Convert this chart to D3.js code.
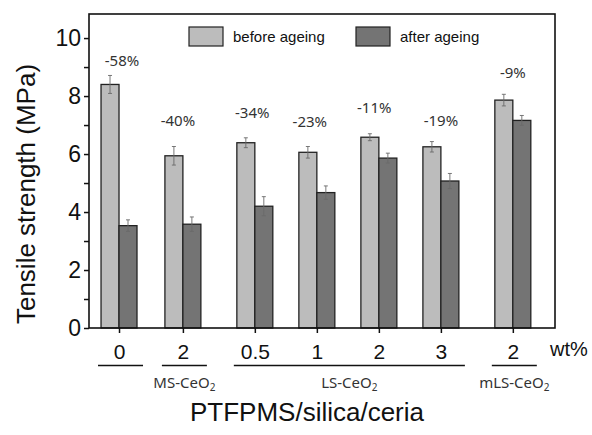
<!DOCTYPE html>
<html>
<head>
<meta charset="utf-8">
<script src="https://cdn.jsdelivr.net/npm/d3@7/dist/d3.min.js"></script>
<style>
  html, body { margin: 0; padding: 0; background: #fff; }
  svg { display: block; }
</style>
</head>
<body>
<svg id="chart" width="592" height="435"></svg>
<script>
// Ceria loading (wt%) of each formulation and the filler family it belongs to
const compositions = ["0", "2", "0.5", "1", "2", "3", "2"];
const fillers = ["", "MS-CeO2", "LS-CeO2", "LS-CeO2", "LS-CeO2", "LS-CeO2", "mLS-CeO2"];

// Tensile strength (MPa) before and after ageing, with standard deviations
const beforeAgeing = [8.40, 5.94, 6.39, 6.06, 6.58, 6.25, 7.86];
const beforeErr    = [0.31, 0.32, 0.17, 0.20, 0.12, 0.18, 0.20];
const afterAgeing  = [3.53, 3.58, 4.20, 4.67, 5.86, 5.07, 7.16];
const afterErr     = [0.20, 0.25, 0.33, 0.23, 0.17, 0.26, 0.17];

const seriesNames = ["before ageing", "after ageing"];
const yMajorTicks = [0, 2, 4, 6, 8, 10];
const yMinorTicks = [1, 3, 5, 7, 9];

const svg = d3.select("#chart");
const plot = { left: 89, right: 555, top: 14, bottom: 328 };
const colors = { before: "#bcbcbc", after: "#747474", edge: "#222", err: "#6a6a6a", note: "#333" };
const sansFont = "'Liberation Sans', Arial, sans-serif";
const noteFont = "'Noto Sans', 'Open Sans', sans-serif";

// Slot position of each formulation: one unit per bar pair, with a little
// extra room whenever the filler family changes.
const slots = [];
fillers.forEach((f, i) => {
  if (i === 0) { slots.push(0); return; }
  const gap = f === fillers[i - 1] ? 0 : (fillers[i - 1] === "" ? 0.03 : 0.16);
  slots.push(slots[i - 1] + 1 + gap);
});

const x = d3.scaleLinear().domain([-0.484, 7.03]).range([plot.left, plot.right]);
const y = d3.scaleLinear().domain([0, 10.83]).range([plot.bottom, plot.top]);
const barW = 0.29; // slot units

// Bars
const bars = svg.append("g");
const series = [
  { vals: beforeAgeing, errs: beforeErr, fill: colors.before, off: -barW },
  { vals: afterAgeing,  errs: afterErr,  fill: colors.after,  off: 0 }
];
series.forEach(s => {
  s.vals.forEach((v, i) => {
    const x0 = x(slots[i] + s.off), x1 = x(slots[i] + s.off + barW);
    bars.append("rect")
      .attr("x", x0).attr("y", y(v))
      .attr("width", x1 - x0).attr("height", y(0) - y(v))
      .attr("fill", s.fill).attr("stroke", colors.edge).attr("stroke-width", 1.3);
  });
});

// Error bars
const errs = svg.append("g").attr("stroke", colors.err).attr("stroke-width", 0.9);
series.forEach(s => {
  s.vals.forEach((v, i) => {
    const cx = (x(slots[i] + s.off) + x(slots[i] + s.off + barW)) / 2;
    const lo = y(v - s.errs[i]), hi = y(v + s.errs[i]);
    errs.append("line").attr("x1", cx).attr("x2", cx).attr("y1", lo).attr("y2", hi);
    [lo, hi].forEach(yy => errs.append("line")
      .attr("x1", cx - 2).attr("x2", cx + 2).attr("y1", yy).attr("y2", yy));
  });
});

// Relative loss after ageing, written above each pair
const noteBaseline = [9.03, 6.98, 7.23, 6.94, 7.40, 6.98, 8.61]; // value units
const noteShift = [3, -5, -2.6, -7, -4.6, 0, 0];                    // px
svg.append("g").selectAll("text")
  .data(compositions)
  .join("text")
  .attr("x", (d, i) => x(slots[i]) + noteShift[i])
  .attr("y", (d, i) => y(noteBaseline[i]))
  .attr("text-anchor", "middle")
  .attr("font-family", noteFont).attr("font-size", 15).attr("fill", colors.note)
  .text((d, i) => Math.round((afterAgeing[i] - beforeAgeing[i]) / beforeAgeing[i] * 100) + "%");

// Frame
svg.append("rect")
  .attr("x", plot.left).attr("y", plot.top)
  .attr("width", plot.right - plot.left).attr("height", plot.bottom - plot.top)
  .attr("fill", "none").attr("stroke", "#111").attr("stroke-width", 1.6);

// Y axis
const yAxis = svg.append("g").attr("transform", `translate(${plot.left},0)`)
  .call(d3.axisLeft(y).tickValues(yMajorTicks).tickSize(5).tickPadding(3).tickFormat(d3.format("d")));
yAxis.select(".domain").remove();
yAxis.selectAll("line").attr("stroke", "#111").attr("stroke-width", 1.5);
yAxis.selectAll("text").attr("font-family", sansFont).attr("font-size", 23).attr("fill", "#111");

const yMinor = svg.append("g").attr("transform", `translate(${plot.left},0)`)
  .call(d3.axisLeft(y).tickValues(yMinorTicks).tickSize(5).tickFormat(""));
yMinor.select(".domain").remove();
yMinor.selectAll("line").attr("stroke", "#111").attr("stroke-width", 1.5);

// X axis: one tick per formulation, labelled with its ceria loading
const xAxis = svg.append("g").attr("transform", `translate(0,${plot.bottom})`)
  .call(d3.axisBottom(x).tickValues(slots).tickSize(5).tickPadding(11)
    .tickFormat((d, i) => compositions[i]));
xAxis.select(".domain").remove();
xAxis.selectAll("line").attr("stroke", "#111").attr("stroke-width", 1.5);
xAxis.selectAll("text").attr("font-family", sansFont).attr("font-size", 21).attr("fill", "#111");

svg.append("text")
  .attr("x", 550).attr("y", 356)
  .attr("font-family", sansFont).attr("font-size", 20).attr("fill", "#111")
  .text("wt%");

// Filler family brackets and names
const families = [];
fillers.forEach((f, i) => {
  const last = families[families.length - 1];
  if (last && last.name === f && i > 0) last.end = i;
  else families.push({ name: f, start: i, end: i });
});
const famG = svg.append("g");
families.forEach(fam => {
  const x0 = x(slots[fam.start]) - 21, x1 = x(slots[fam.end]) + 24;
  famG.append("line")
    .attr("x1", x0).attr("x2", x1).attr("y1", 365.5).attr("y2", 365.5)
    .attr("stroke", "#111").attr("stroke-width", 1.4);
  if (fam.name) {
    const t = famG.append("text")
      .attr("x", (x0 + x1) / 2).attr("y", 388)
      .attr("text-anchor", "middle")
      .attr("font-family", noteFont).attr("font-size", 15).attr("fill", colors.note);
    t.append("tspan").text(fam.name.slice(0, -1));
    t.append("tspan").attr("font-size", 10).attr("dy", 3).text(fam.name.slice(-1));
  }
});

// Axis titles
svg.append("text")
  .attr("transform", "translate(35,194) rotate(-90)")
  .attr("text-anchor", "middle")
  .attr("font-family", sansFont).attr("font-size", 26).attr("fill", "#111")
  .text("Tensile strength (MPa)");

svg.append("text")
  .attr("x", 307).attr("y", 421)
  .attr("text-anchor", "middle")
  .attr("font-family", sansFont).attr("font-size", 26).attr("fill", "#111")
  .text("PTFPMS/silica/ceria");

// Legend
const legend = svg.append("g");
[{ x: 189, fill: colors.before }, { x: 356, fill: colors.after }].forEach((l, i) => {
  legend.append("rect")
    .attr("x", l.x).attr("y", 27).attr("width", 34).attr("height", 19)
    .attr("fill", l.fill).attr("stroke", colors.edge).attr("stroke-width", 1.2);
  legend.append("text")
    .attr("x", l.x + 44).attr("y", 42)
    .attr("font-family", sansFont).attr("font-size", 15).attr("fill", "#111")
    .text(seriesNames[i]);
});
</script>
</body>
</html>
